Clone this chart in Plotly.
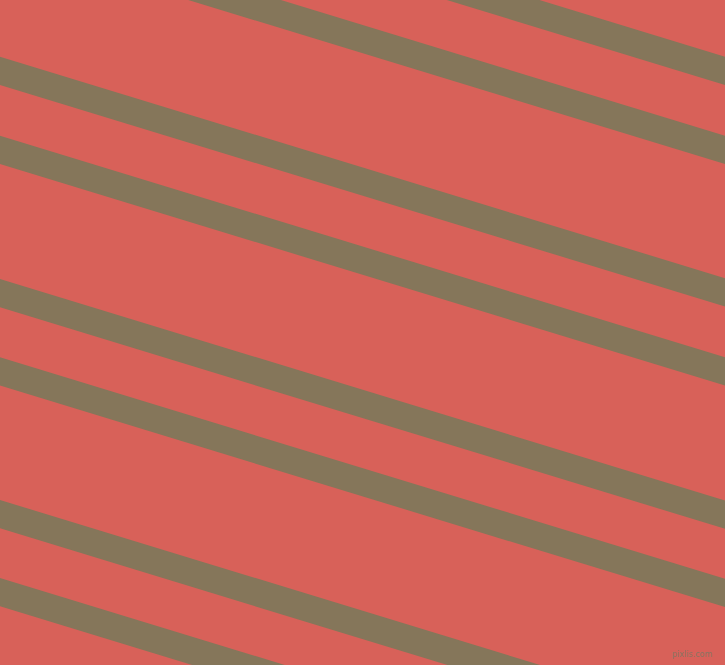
import plotly.graph_objects as go

# canvas size in px (the axes map 1 unit -> 1 px)
W, H = 725, 665

# stripe top edges where they meet the left border (px from top)
stripe_offsets = [-164.8, -85.8, 56.7, 135.7, 279.0, 357.3, 500.0, 578.0]
stripe_slope = 0.3055      # drop per px across
stripe_width = 28.3        # vertical thickness

bg_color = "#D86159"
stripe_color = "#85765A"

fig = go.Figure()

for off in stripe_offsets:
    y_right = off + stripe_slope * W
    fig.add_trace(go.Scatter(
        x=[0, W, W, 0, 0],
        y=[off, y_right, y_right + stripe_width, off + stripe_width, off],
        mode="lines",
        fill="toself",
        fillcolor=stripe_color,
        line=dict(width=0, color=stripe_color),
        hoverinfo="skip",
        showlegend=False,
    ))

# small site mark, bottom right
fig.add_annotation(
    x=1, y=0, xref="paper", yref="paper",
    xanchor="right", yanchor="bottom", xshift=-11, yshift=4,
    text="pixlis.com", showarrow=False,
    font=dict(family="DejaVu Sans", size=8, color="#8A7462"),
)

fig.update_xaxes(range=[0, W], visible=False, fixedrange=True)
fig.update_yaxes(range=[H, 0], visible=False, fixedrange=True)
fig.update_layout(
    width=W, height=H,
    margin=dict(l=0, r=0, t=0, b=0),
    paper_bgcolor=bg_color,
    plot_bgcolor=bg_color,
)

# drop the page's default body margin so the chart sits at 0,0
fig.write_html(
    "out.html",
    config={"displayModeBar": False},
    post_script="document.body.style.margin='0';document.body.style.overflow='hidden';",
)
